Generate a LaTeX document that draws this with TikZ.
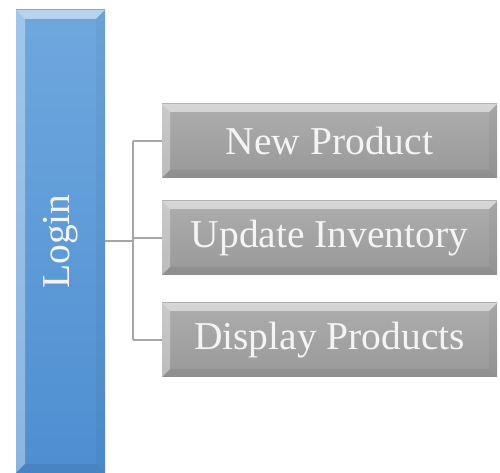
\documentclass[tikz,border=0pt]{standalone}
\usepackage{fontspec}
\setmainfont{Liberation Serif}
\usetikzlibrary{calc}
\definecolor{blueA}{HTML}{6FA8DE}
\definecolor{blueB}{HTML}{4E8ED1}
\definecolor{grayA}{HTML}{ADADAD}
\definecolor{grayB}{HTML}{999999}
\definecolor{connC}{HTML}{A6A6A6}
\definecolor{txtC}{HTML}{F4F4F4}
\tikzset{
  x=1pt, y=1pt,
  bevel/.style={path picture={
    \coordinate (bsw) at (path picture bounding box.south west);
    \coordinate (bne) at (path picture bounding box.north east);
    \coordinate (bnw) at (bsw|-bne);
    \coordinate (bse) at (bsw-|bne);
    \fill[white, opacity=0.50] (bnw) -- (bne) -- ($(bne)+(-#1,-#1)$) -- ($(bnw)+(#1,-#1)$) -- cycle;
    \fill[white, opacity=0.35] (bnw) -- ($(bnw)+(#1,-#1)$) -- ($(bsw)+(#1,#1)$) -- (bsw) -- cycle;
    \fill[black, opacity=0.04] (bne) -- (bse) -- ($(bse)+(-#1,#1)$) -- ($(bne)+(-#1,-#1)$) -- cycle;
    \fill[black, opacity=0.07] (bsw) -- (bse) -- ($(bse)+(-#1,#1)$) -- ($(bsw)+(#1,#1)$) -- cycle;
  }},
  loginbox/.style={rectangle, inner sep=0pt, minimum width=89pt, minimum height=463pt,
    top color=blueA, bottom color=blueB, bevel=9},
  itembox/.style={rectangle, inner sep=0pt, minimum width=335pt, minimum height=74pt,
    top color=grayA, bottom color=grayB, bevel=8},
  boxtext/.style={text=txtC, font=\fontsize{39.5}{40}\selectfont, inner sep=0pt},
  conn/.style={draw=connC, line width=2pt}
}
\begin{document}
\begin{tikzpicture}
\useasboundingbox (0,0) rectangle (500,473);
\node[loginbox] (login) at (60.5,231.5) {};
\node[boxtext, rotate=90] (logintext) at (login.center) {Login};
\node[itembox] (b1) at (329.5,332) {};
\node[itembox] (b2) at (329.5,235) {};
\node[itembox] (b3) at (329.5,133) {};
\node[boxtext] (t1) at (b1.center) {New Product};
\node[boxtext] (t2) at (b2.center) {Update Inventory};
\node[boxtext] (t3) at (b3.center) {Display Products};
\coordinate (jn) at ($(login.east)+(28,0)$);
\draw[conn] (login.east) -- (jn);
\draw[conn] (jn|-b1.west) -- (jn|-b3.west);
\draw[conn] (jn|-b1.west) -- (b1.west);
\draw[conn] (jn|-b2.west) -- (b2.west);
\draw[conn] (jn|-b3.west) -- (b3.west);
\end{tikzpicture}
\end{document}
